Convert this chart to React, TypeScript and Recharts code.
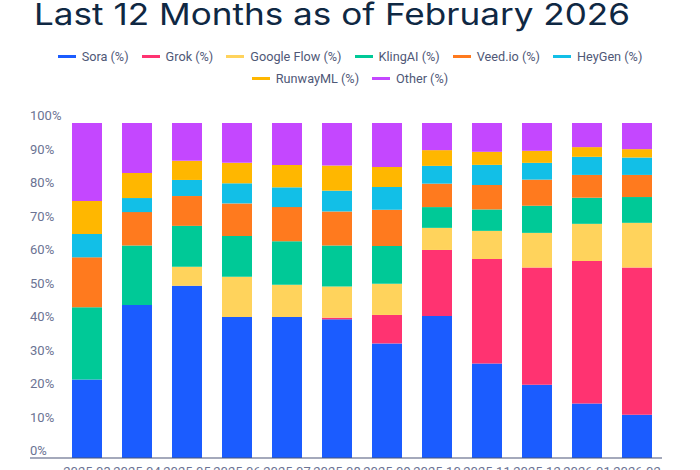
import React from 'react';
import { BarChart, Bar, XAxis, YAxis, Legend } from 'recharts';

const months = ['2025-03', '2025-04', '2025-05', '2025-06', '2025-07', '2025-08', '2025-09', '2025-10', '2025-11', '2025-12', '2026-01', '2026-02'];
const sora = [23.4, 45.7, 51.4, 42.1, 42.1, 41.4, 34.2, 42.4, 28.2, 21.9, 16.3, 12.9];
const grok = [0, 0, 0, 0, 0, 0.5, 8.5, 19.7, 31.2, 35.0, 42.5, 44.0];
const googleFlow = [0, 0, 5.7, 12.0, 9.6, 9.3, 9.3, 6.6, 8.4, 10.3, 11.1, 13.3];
const klingAI = [21.6, 17.7, 12.2, 12.2, 13.0, 12.2, 11.3, 6.2, 6.4, 8.1, 7.8, 7.7];
const veed = [14.9, 10.0, 8.9, 9.7, 10.2, 10.2, 10.8, 7.0, 7.3, 7.8, 6.8, 6.6];
const heyGen = [7.0, 4.2, 4.8, 6.0, 5.9, 6.2, 6.8, 5.3, 6.0, 5.0, 5.4, 5.2];
const runwayML = [9.8, 7.5, 5.7, 6.1, 6.7, 7.5, 6.0, 4.7, 3.9, 3.6, 2.9, 2.5];
const other = [23.3, 14.9, 11.3, 11.9, 12.5, 12.8, 13.1, 8.1, 8.6, 8.3, 7.2, 7.8];
const yTicks = [0, 10, 20, 30, 40, 50, 60, 70, 80, 90, 100];
const title = 'Last 12 Months as of February 2026';

const series = [
  { key: 'sora', name: 'Sora (%)', values: sora, color: '#1b5cff' },
  { key: 'grok', name: 'Grok (%)', values: grok, color: '#ff3371' },
  { key: 'googleFlow', name: 'Google Flow (%)', values: googleFlow, color: '#ffd35c' },
  { key: 'klingAI', name: 'KlingAI (%)', values: klingAI, color: '#00c997' },
  { key: 'veed', name: 'Veed.io (%)', values: veed, color: '#ff7a1e' },
  { key: 'heyGen', name: 'HeyGen (%)', values: heyGen, color: '#12bfe7' },
  { key: 'runwayML', name: 'RunwayML (%)', values: runwayML, color: '#ffb700' },
  { key: 'other', name: 'Other (%)', values: other, color: '#c447ff' },
];

const data = months.map((m, i) => {
  const row: Record<string, any> = { month: m };
  series.forEach((s) => {
    row[s.key] = s.values[i];
  });
  return row;
});

const FONT = 'Roboto, "Noto Sans", sans-serif';

const LegendContent = () => (
  <div
    style={{
      position: 'absolute',
      top: 48,
      left: 40,
      width: 620,
      display: 'flex',
      flexWrap: 'wrap',
      justifyContent: 'center',
      rowGap: 5,
      columnGap: 13,
      fontFamily: FONT,
      fontSize: 12.7,
      color: '#4f5877',
      lineHeight: '17px',
    }}
  >
    {series.map((s) => (
      <div key={s.key} style={{ display: 'flex', alignItems: 'center', whiteSpace: 'nowrap' }}>
        <span style={{ display: 'inline-block', width: 18, height: 3, background: s.color, marginRight: 6 }} />
        <span>{s.name}</span>
      </div>
    ))}
  </div>
);

const YTick = (props: any) => {
  const { y, payload } = props;
  return (
    <text x={30} y={y - 3} textAnchor="start" fill="#6b7393" fontSize={13} fontFamily={FONT}>
      {payload.value}%
    </text>
  );
};

export default function App() {
  return (
    <div style={{ position: 'absolute', left: 0, top: 0, width: 700, height: 470, background: '#fff', overflow: 'hidden' }}>
      <svg width={700} height={40} style={{ position: 'absolute', left: 0, top: 0 }}>
        <text
          x={34}
          y={25}
          fontFamily='Inter, "Open Sans", sans-serif'
          fontSize={30}
          fontWeight={400}
          fill="#0f2843"
          textLength={596}
          lengthAdjust="spacingAndGlyphs"
        >
          {title}
        </text>
      </svg>
      <BarChart
        width={700}
        height={470}
        data={data}
        margin={{ top: 123, right: 38, bottom: 0, left: 0 }}
        style={{ position: 'absolute', left: 0, top: 0 }}
      >
        <XAxis
          dataKey="month"
          height={12}
          padding={{ left: 32, right: 0 }}
          tickLine={false}
          axisLine={{ stroke: '#4a5578', strokeWidth: 1.2 }}
          tick={{ fill: '#6b7393', fontSize: 13, fontFamily: FONT }}
          tickMargin={3}
          interval={0}
        />
        <YAxis
          width={30}
          domain={[0, 100]}
          allowDataOverflow
          ticks={yTicks}
          axisLine={false}
          tickLine={false}
          tick={<YTick />}
          interval={0}
        />
        <Legend
          content={<LegendContent />}
          wrapperStyle={{ position: 'absolute', top: 0, left: 0, width: 700, height: 0, overflow: 'visible' }}
        />
        {series.map((s) => (
          <Bar key={s.key} dataKey={s.key} name={s.name} stackId="a" fill={s.color} barSize={30} isAnimationActive={false} />
        ))}
      </BarChart>
    </div>
  );
}
